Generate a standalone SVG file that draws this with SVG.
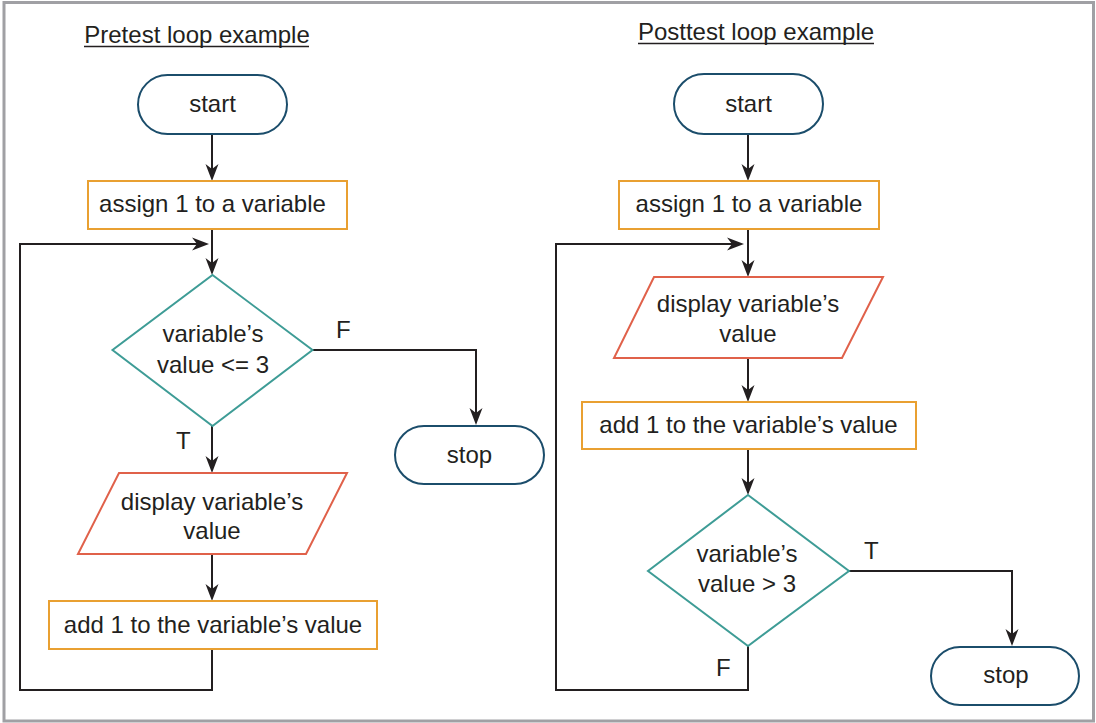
<svg xmlns="http://www.w3.org/2000/svg" width="1096" height="723" viewBox="0 0 1096 723">
<style>
text{font-family:"Liberation Sans",Arial,sans-serif;font-size:24px;fill:#231f20}
.c{text-anchor:middle}
.term{fill:#fff;stroke:#1b4d6b;stroke-width:2}
.proc{fill:#fff;stroke:#e9a031;stroke-width:2}
.io{fill:#fff;stroke:#e0614a;stroke-width:2}
.dec{fill:#fff;stroke:#3e9c96;stroke-width:2}
.ln{fill:none;stroke:#231f20;stroke-width:2}
.ul{stroke:#231f20;stroke-width:1.5}
</style>
<defs>
<marker id="ah" viewBox="-14 -8 20 16" markerWidth="20" markerHeight="16" refX="0" refY="0" orient="auto" markerUnits="userSpaceOnUse">
<path d="M4,0 L-13,-6.5 L-8,0 L-13,6.5 Z" fill="#231f20"/>
</marker>
</defs>
<rect x="0" y="0" width="1096" height="723" fill="#fff"/>
<rect x="4" y="2.5" width="1089.5" height="718.5" fill="#fff" stroke="#a0a0a4" stroke-width="3"/>

<g id="titles">
<text x="197" y="43" class="c">Pretest loop example</text>
<line x1="84" y1="46.5" x2="309" y2="46.5" class="ul"/>
<text x="756" y="40" class="c">Posttest loop example</text>
<line x1="638" y1="43.5" x2="874" y2="43.5" class="ul"/>
</g>

<g id="connectors">
<path class="ln" d="M212,134 V177" marker-end="url(#ah)"/>
<path class="ln" d="M212,229 V271" marker-end="url(#ah)"/>
<path class="ln" d="M212,649 V690 H20 V244 H205" marker-end="url(#ah)"/>
<path class="ln" d="M312,350 H476 V421" marker-end="url(#ah)"/>
<path class="ln" d="M212,426 V469" marker-end="url(#ah)"/>
<path class="ln" d="M212,554 V597" marker-end="url(#ah)"/>

<path class="ln" d="M748,134 V177" marker-end="url(#ah)"/>
<path class="ln" d="M748,229 V273" marker-end="url(#ah)"/>
<path class="ln" d="M748,646 V690 H556 V244 H740" marker-end="url(#ah)"/>
<path class="ln" d="M748,358 V398" marker-end="url(#ah)"/>
<path class="ln" d="M748,449 V491" marker-end="url(#ah)"/>
<path class="ln" d="M849,571 H1012 V642" marker-end="url(#ah)"/>
</g>

<g id="labels">
<text x="336" y="338">F</text>
<text x="176" y="449">T</text>
<text x="864" y="559">T</text>
<text x="716" y="676">F</text>
</g>

<g id="pre-start">
<rect x="138" y="75" width="149" height="59" rx="29.5" class="term"/>
<text x="212.5" y="112" class="c">start</text>
</g>
<g id="pre-assign">
<rect x="88" y="181" width="259" height="48" class="proc"/>
<text x="212.5" y="212" class="c">assign 1 to a variable</text>
</g>
<g id="pre-decision">
<polygon points="212.5,275 312.5,350 212.5,426 112.5,350" class="dec"/>
<text x="213" y="342" class="c">variable’s</text>
<text x="213" y="373" class="c">value &lt;= 3</text>
</g>
<g id="pre-stop">
<rect x="395" y="426" width="149" height="58" rx="29" class="term"/>
<text x="469.5" y="463" class="c">stop</text>
</g>
<g id="pre-display">
<polygon points="119,473 347,473 306,554 78,554" class="io"/>
<text x="212" y="510" class="c">display variable’s</text>
<text x="212" y="539" class="c">value</text>
</g>
<g id="pre-add">
<rect x="49" y="601" width="328" height="48" class="proc"/>
<text x="213" y="633" class="c">add 1 to the variable’s value</text>
</g>

<g id="post-start">
<rect x="674" y="74" width="149" height="60" rx="30" class="term"/>
<text x="748.5" y="112" class="c">start</text>
</g>
<g id="post-assign">
<rect x="619" y="181" width="260" height="48" class="proc"/>
<text x="749" y="212" class="c">assign 1 to a variable</text>
</g>
<g id="post-display">
<polygon points="654,277 883,277 842,358 614,358" class="io"/>
<text x="748" y="312" class="c">display variable’s</text>
<text x="748" y="342" class="c">value</text>
</g>
<g id="post-add">
<rect x="582" y="402" width="334" height="47" class="proc"/>
<text x="748.5" y="433" class="c">add 1 to the variable’s value</text>
</g>
<g id="post-decision">
<polygon points="748,495 849,571 748,646 648,571" class="dec"/>
<text x="747" y="562" class="c">variable’s</text>
<text x="747" y="592" class="c">value &gt; 3</text>
</g>
<g id="post-stop">
<rect x="931" y="647" width="148" height="58" rx="29" class="term"/>
<text x="1006" y="683" class="c">stop</text>
</g>
</svg>
